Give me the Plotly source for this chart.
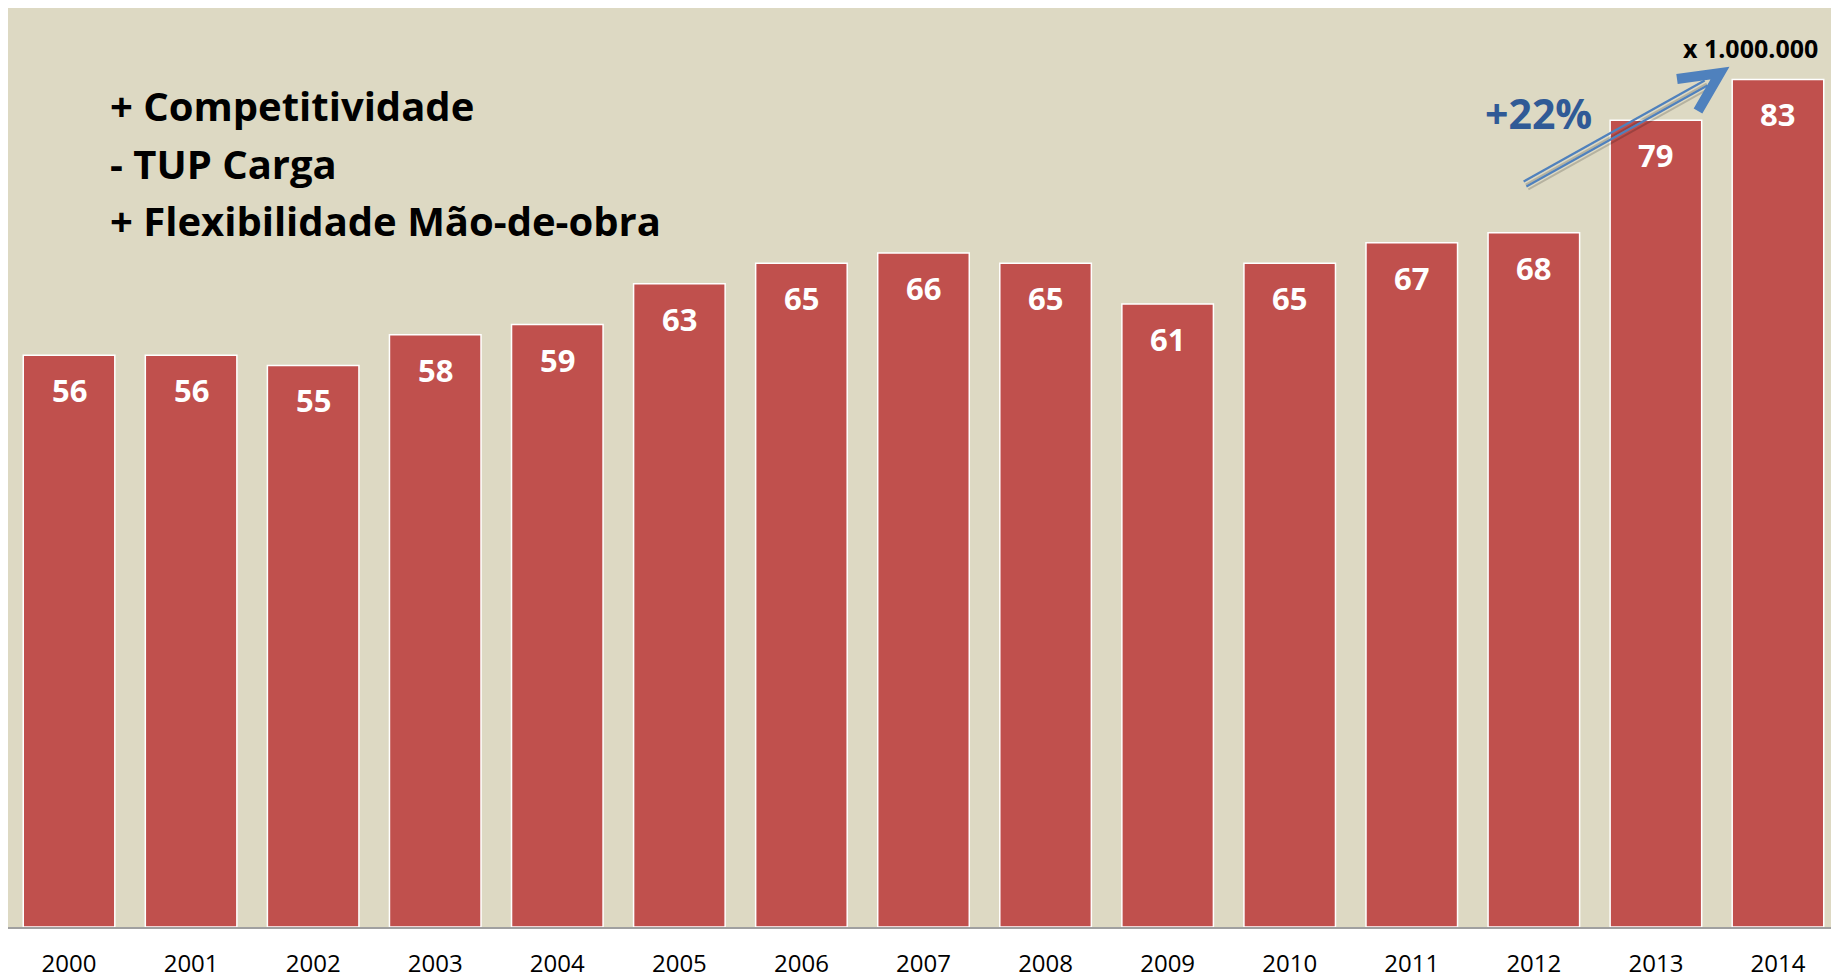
import plotly.graph_objects as go

years = ["2000", "2001", "2002", "2003", "2004", "2005", "2006", "2007",
         "2008", "2009", "2010", "2011", "2012", "2013", "2014"]
values = [56, 56, 55, 58, 59, 63, 65, 66, 65, 61, 65, 67, 68, 79, 83]
notes = ["+ Competitividade", "- TUP Carga", "+ Flexibilidade Mão-de-obra"]
unit_label = "x 1.000.000"
growth_label = "+22%"

# page has an 8px body margin: figure is sized to fit the 1839x976 viewport
OFF = 8
W, H = 1839 - OFF, 976 - OFF
L, R, T, B = 0, 0, 0, 49
PW, PH = W - L - R, H - T - B

def px(x_page):
    return (x_page - OFF - L) / PW

def py(y_page):
    return (H - B - (y_page - OFF)) / PH

BAR = "#C0504D"
BG = "#DDD9C3"
BLUE = "#4F81BD"
FONT = "Open Sans"

fig = go.Figure()
fig.add_trace(go.Bar(
    x=years, y=values,
    marker=dict(color=BAR, line=dict(color="white", width=1.5)),
    hoverinfo="x+y",
))

annotations = []
for i, v in enumerate(values):
    annotations.append(dict(
        x=i, y=v, xref="x", yref="y", text=str(v), showarrow=False,
        yanchor="middle", xanchor="center", yshift=-35,
        font=dict(family=FONT, size=31, color="white", weight="bold"),
    ))

for i, line in enumerate(notes):
    annotations.append(dict(
        x=px(108), y=py(105.5 + i * 57.5), xref="paper", yref="paper",
        text=line, showarrow=False, xanchor="left", yanchor="middle",
        font=dict(family=FONT, size=40, color="black", weight="bold"),
    ))

annotations.append(dict(
    x=px(1820), y=py(48), xref="paper", yref="paper", text=unit_label,
    showarrow=False, xanchor="right", yanchor="middle",
    font=dict(family=FONT, size=25, color="black", weight="bold"),
))
annotations.append(dict(
    x=px(1538), y=py(113), xref="paper", yref="paper", text=growth_label,
    showarrow=False, xanchor="center", yanchor="middle",
    font=dict(family=FONT, size=41, color="#305A96", weight="bold"),
))

# arrow (decoration)
shapes = []
tail = (1525, 184)
head = (1706, 83)
dx, dy = head[0] - tail[0], head[1] - tail[1]
ln = (dx * dx + dy * dy) ** 0.5
nx, ny = -dy / ln, dx / ln
for off in (-2.8, 2.8):
    shapes.append(dict(type="line", xref="paper", yref="paper",
                       x0=px(tail[0] + nx * off + 2), y0=py(tail[1] + ny * off + 3),
                       x1=px(head[0] + nx * off + 2), y1=py(head[1] + ny * off + 3),
                       line=dict(color="rgba(0,0,0,0.18)", width=2)))
for off in (-2.8, 2.8):
    shapes.append(dict(type="line", xref="paper", yref="paper",
                       x0=px(tail[0] + nx * off), y0=py(tail[1] + ny * off),
                       x1=px(head[0] + nx * off), y1=py(head[1] + ny * off),
                       line=dict(color=BLUE, width=2.2)))
pts = [(1677, 79), (1720, 73), (1698, 111)]
path = "M {},{} L {},{} L {},{}".format(px(pts[0][0]), py(pts[0][1]),
                                        px(pts[1][0]), py(pts[1][1]),
                                        px(pts[2][0]), py(pts[2][1]))
shapes.append(dict(type="path", xref="paper", yref="paper", path=path,
                   line=dict(color=BLUE, width=10)))

fig.update_layout(
    width=W, height=H,
    margin=dict(l=L, r=R, t=T, b=B, pad=0, autoexpand=False),
    paper_bgcolor="white", plot_bgcolor=BG,
    bargap=0.25, showlegend=False,
    annotations=annotations, shapes=shapes,
    xaxis=dict(type="category", range=[-0.5, len(years) - 0.5], autorange=False,
               automargin=False,
               showline=True, linecolor="#A0A0A0", linewidth=2,
               showgrid=False, zeroline=False, ticks="",
               tickfont=dict(family=FONT, size=24, color="black"),
               ticklabelstandoff=14),
    yaxis=dict(range=[0, 90], autorange=False, visible=False, showgrid=False,
               zeroline=False, automargin=False),
)

fig.write_html("out.html")
